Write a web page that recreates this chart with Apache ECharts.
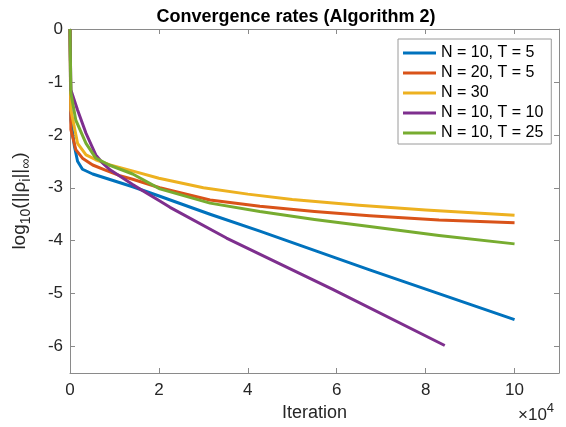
<!DOCTYPE html>
<html>
<head>
<meta charset="utf-8">
<script src="https://cdn.jsdelivr.net/npm/echarts@6/dist/echarts.min.js"></script>
<style>
  html, body { margin: 0; padding: 0; background: #fff; }
  #chart { width: 566px; height: 427px; }
</style>
</head>
<body>
<div id="chart"></div>
<script>
// values (x in iterations, y = log10 of the residual)
const seriesNames = ['N = 10, T = 5', 'N = 20, T = 5', 'N = 30', 'N = 10, T = 10', 'N = 10, T = 25']
const colors = ['#0072BD', '#D95319', '#EDB120', '#7E2F8E', '#77AC30']

const blueX = [0, 200, 1000, 1700, 2800, 5100, 8800, 14100, 20200, 31500, 42700, 67400, 100000]
const blueY = [0, -1.72, -2.22, -2.50, -2.65, -2.74, -2.84, -2.98, -3.16, -3.50, -3.82, -4.55, -5.49]

const orangeX = [0, 200, 1300, 2800, 5100, 8100, 11200, 14100, 20200, 31500, 42700, 55000, 67400, 83000, 100000]
const orangeY = [0, -1.90, -2.28, -2.44, -2.57, -2.67, -2.77, -2.84, -3.00, -3.23, -3.35, -3.45, -3.53, -3.61, -3.66]

const yellowX = [0, 200, 1700, 3600, 5800, 9000, 14000, 20000, 30000, 40000, 50000, 65000, 80000, 100000]
const yellowY = [0, -1.53, -2.16, -2.38, -2.47, -2.57, -2.68, -2.82, -3.00, -3.12, -3.22, -3.33, -3.42, -3.52]

const purpleX = [0, 200, 1700, 3600, 5800, 7300, 9000, 10300, 14100, 20200, 22500, 35200, 59100, 84300]
const purpleY = [0, -1.15, -1.53, -1.97, -2.38, -2.53, -2.66, -2.73, -2.94, -3.25, -3.37, -3.95, -4.92, -5.98]

const greenX = [0, 200, 1300, 3600, 5800, 8800, 14100, 20200, 31500, 42700, 55000, 67400, 83000, 100000]
const greenY = [0, -1.21, -1.72, -2.16, -2.44, -2.57, -2.74, -3.02, -3.29, -3.45, -3.60, -3.73, -3.90, -4.06]

const xTicks = [0, 20000, 40000, 60000, 80000, 100000]
const yTicks = [0, -1, -2, -3, -4, -5, -6]

const allX = [blueX, orangeX, yellowX, purpleX, greenX]
const allY = [blueY, orangeY, yellowY, purpleY, greenY]

const font = 'Helvetica, Arial, "Liberation Sans", sans-serif'
const axisGray = '#8a8a8a'
const labelColor = '#262626'

const chart = echarts.init(document.getElementById('chart'))

const series = seriesNames.map((name, i) => ({
  name: name,
  type: 'line',
  data: allX[i].map((x, k) => [x, allY[i][k]]),
  showSymbol: false,
  symbol: 'none',
  smooth: false,
  lineStyle: { color: colors[i], width: 3, join: 'round', cap: 'butt' },
  itemStyle: { color: colors[i] },
  z: 2 + i
}))

const baseX = {
  type: 'value',
  min: 0,
  max: 110000,
  interval: 20000,
  axisLine: { show: true, onZero: false, lineStyle: { color: axisGray, width: 1 } },
  axisTick: { show: true, inside: true, length: 5, lineStyle: { color: axisGray } },
  splitLine: { show: false }
}
const baseY = {
  type: 'value',
  min: -6.5,
  max: 0,
  axisLine: { show: true, onZero: false, lineStyle: { color: axisGray, width: 1 } },
  axisTick: { show: true, inside: true, length: 5, customValues: yTicks, lineStyle: { color: axisGray } },
  splitLine: { show: false }
}

const option = {
  animation: false,
  backgroundColor: '#fff',
  title: {
    text: 'Convergence rates (Algorithm 2)',
    left: 291,
    textAlign: 'center',
    top: 3,
    textStyle: { fontFamily: font, fontSize: 18, fontWeight: 'bold', color: '#000' }
  },
  grid: { left: 70, right: 7, top: 29, bottom: 54 },
  legend: {
    data: seriesNames,
    orient: 'vertical',
    left: 398,
    top: 39,
    icon: 'rect',
    itemWidth: 33,
    itemHeight: 3,
    itemGap: 0,
    padding: [4, 8, 1, 5],
    backgroundColor: '#fff',
    borderColor: '#9a9a9a',
    borderWidth: 1,
    borderRadius: 0,
    textStyle: { fontFamily: font, fontSize: 16, color: '#000', lineHeight: 20 }
  },
  xAxis: [
    Object.assign({}, baseX, {
      position: 'bottom',
      name: 'Iteration',
      nameLocation: 'middle',
      nameGap: 30,
      nameTextStyle: { fontFamily: font, fontSize: 18, color: labelColor },
      axisLabel: {
        margin: 9,
        fontFamily: font,
        fontSize: 17,
        color: labelColor,
        formatter: v => xTicks.indexOf(v) >= 0 ? String(v / 10000) : ''
      }
    }),
    Object.assign({}, baseX, { position: 'top', axisLabel: { show: false } })
  ],
  yAxis: [
    Object.assign({}, baseY, {
      position: 'left',
      name: '{t|log}{s|10}{t|(||}{t|ρ}{s|i}{t|||}{s|∞}{t|)}',
      nameLocation: 'middle',
      nameRotate: 90,
      nameGap: 37,
      nameTextStyle: {
        rich: {
          t: { fontFamily: font, fontSize: 19, color: labelColor, lineHeight: 26, verticalAlign: 'middle' },
          s: { fontFamily: font, fontSize: 14, color: labelColor, lineHeight: 26, verticalAlign: 'bottom' }
        }
      },
      axisLabel: {
        margin: 7,
        fontFamily: font,
        fontSize: 17,
        color: labelColor,
        customValues: yTicks,
        formatter: v => String(v)
      }
    }),
    Object.assign({}, baseY, { position: 'right', axisLabel: { show: false } })
  ],
  graphic: [
    {
      type: 'text',
      left: 518,
      top: 402,
      style: {
        text: '{a|×10}{b|4}',
        rich: {
          a: { fontFamily: font, fontSize: 17, fill: labelColor, lineHeight: 22, verticalAlign: 'bottom' },
          b: { fontFamily: font, fontSize: 13, fill: labelColor, lineHeight: 22, verticalAlign: 'top' }
        }
      }
    }
  ],
  series: series
}

chart.setOption(option)
</script>
</body>
</html>
